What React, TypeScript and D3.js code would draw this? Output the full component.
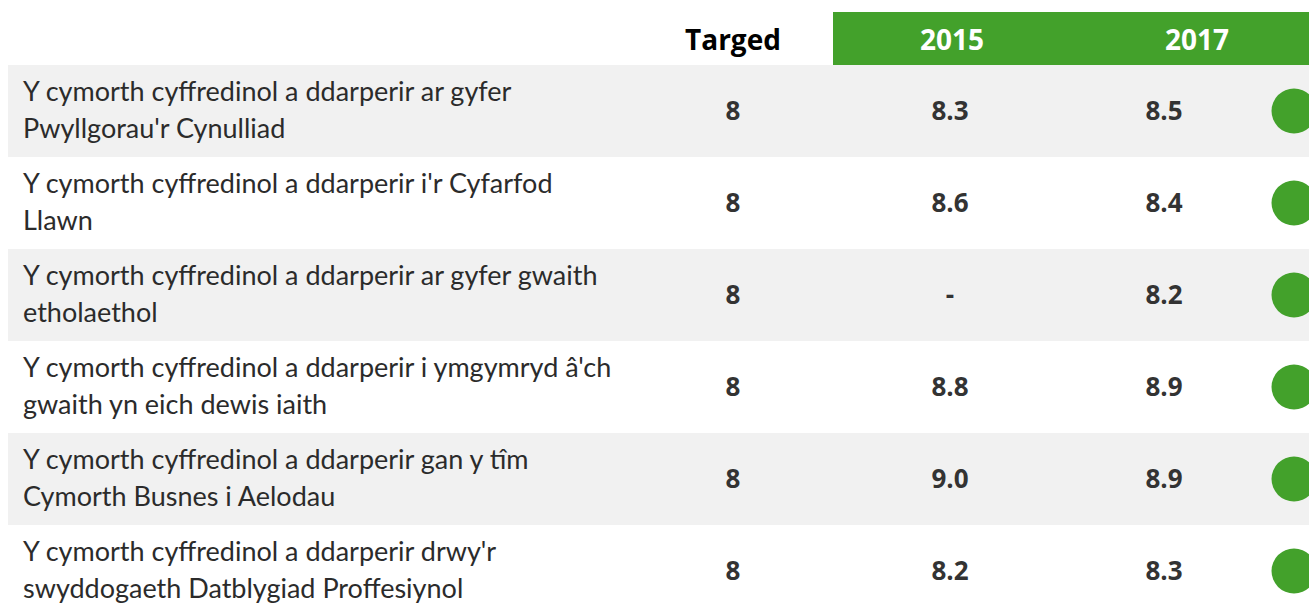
import * as d3 from "d3";
import { useEffect, useRef } from "react";

const columns = ["Targed", "2015", "2017"];
const labels = [
	["Y cymorth cyffredinol a ddarperir ar gyfer", "Pwyllgorau'r Cynulliad"],
	["Y cymorth cyffredinol a ddarperir i'r Cyfarfod", "Llawn"],
	["Y cymorth cyffredinol a ddarperir ar gyfer gwaith", "etholaethol"],
	["Y cymorth cyffredinol a ddarperir i ymgymryd â'ch", "gwaith yn eich dewis iaith"],
	["Y cymorth cyffredinol a ddarperir gan y tîm", "Cymorth Busnes i Aelodau"],
	["Y cymorth cyffredinol a ddarperir drwy'r", "swyddogaeth Datblygiad Proffesiynol"],
];
const targets = [8, 8, 8, 8, 8, 8];
const values2015: (number | null)[] = [8.3, 8.6, null, 8.8, 9.0, 8.2];
const values2017 = [8.5, 8.4, 8.2, 8.9, 8.9, 8.3];

const green = "#43a12b";
const labelFont = "Lato, 'Noto Sans', sans-serif";
const boldFont = "'Open Sans', 'Noto Sans', sans-serif";

function App() {
	const ref = useRef<SVGSVGElement>(null);
	const width = 1309;
	const height = 604;

	useEffect(() => {
		document.body.style.margin = "0";
		document.body.style.overflow = "hidden";
		const svg = d3.select(ref.current);
		svg.selectAll("*").remove();
		const g = svg.append("g").attr("transform", "translate(8,8)");
		const innerW = width;

		const headerTop = 4;
		const headerH = 53;
		const rowH = 92;
		const y = d3
			.scaleBand<number>()
			.domain(labels.map((_, i) => i))
			.range([headerTop + headerH, headerTop + headerH + rowH * labels.length])
			.padding(0);

		// header centres and value centres per column
		const headX = d3
			.scaleOrdinal<string, number>()
			.domain(columns)
			.range([725, 944, 1189]);
		const valX = d3
			.scaleOrdinal<string, number>()
			.domain(columns)
			.range([725, 942, 1156]);

		// header band
		g.append("rect")
			.attr("x", 825)
			.attr("y", headerTop)
			.attr("width", innerW - 825)
			.attr("height", headerH)
			.attr("fill", green);

		g.selectAll("text.head")
			.data(columns)
			.enter()
			.append("text")
			.attr("class", "head")
			.attr("x", (d) => headX(d))
			.attr("y", 42)
			.attr("text-anchor", "middle")
			.style("font-family", boldFont)
			.style("font-weight", "bold")
			.style("font-size", "28px")
			.attr("fill", (d) => (d === "Targed" ? "#000" : "#fff"))
			.text((d) => d);

		const rows = g
			.selectAll("g.row")
			.data(labels)
			.enter()
			.append("g")
			.attr("class", "row")
			.attr("transform", (_, i) => "translate(0," + y(i) + ")");

		rows.append("rect")
			.attr("x", 0)
			.attr("width", innerW)
			.attr("height", y.bandwidth())
			.attr("fill", (_, i) => (i % 2 === 0 ? "#f1f1f1" : "#ffffff"));

		rows.append("text")
			.style("font-family", labelFont)
			.style("font-size", "27px")
			.attr("fill", "#2b2b2b")
			.selectAll("tspan")
			.data((d) => d)
			.enter()
			.append("tspan")
			.attr("x", 15)
			.attr("y", (_, j) => 36 + j * 37)
			.text((d) => d);

		const cells = (i: number) => [
			String(targets[i]),
			values2015[i] === null ? "-" : (values2015[i] as number).toFixed(1),
			values2017[i].toFixed(1),
		];

		rows.selectAll("text.val")
			.data((_, i) => cells(i))
			.enter()
			.append("text")
			.attr("class", "val")
			.attr("x", (_, j) => valX(columns[j]))
			.attr("y", 55)
			.attr("text-anchor", "middle")
			.style("font-family", boldFont)
			.style("font-weight", "bold")
			.style("font-size", "26px")
			.attr("fill", "#333")
			.text((d) => d);

		rows.append("circle")
			.attr("cx", 1286)
			.attr("cy", y.bandwidth() / 2)
			.attr("r", 22.5)
			.attr("fill", green);
	}, []);

	return (
		<svg
			ref={ref}
			width={width}
			height={height}
			style={{ display: "block", overflow: "hidden" }}
		></svg>
	);
}

export default App;
